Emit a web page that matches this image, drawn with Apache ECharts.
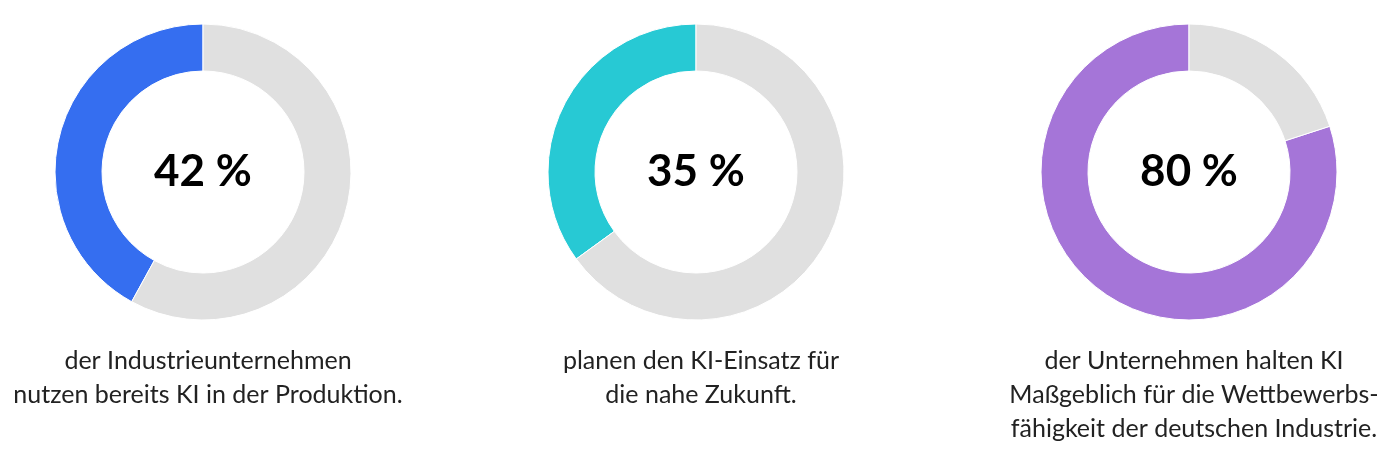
<!DOCTYPE html>
<html><head><meta charset="utf-8">
<script src="https://cdn.jsdelivr.net/npm/echarts@6/dist/echarts.min.js"></script>
<style>html,body{margin:0;padding:0;background:#fff}#c{width:1400px;height:455px}</style>
</head><body><div id="c"></div>
<script>
const values = [42, 35, 80];
const labels = ['42 %', '35 %', '80 %'];
const captions = [
  'der Industrieunternehmen\nnutzen bereits KI in der Produktion.',
  'planen den KI-Einsatz für\ndie nahe Zukunft.',
  'der Unternehmen halten KI\nMaßgeblich für die Wettbewerbs-\nfähigkeit der deutschen Industrie.'
];
const colors = ['#356EF0', '#27C9D4', '#A575D8'];
const centersX = [203, 696, 1189];

const chart = echarts.init(document.getElementById('c'));
chart.setOption({
  animation: false,
  title: values.map((v, i) => ({
    text: captions[i],
    left: centersX[i], top: 339, textAlign: 'center',
    textStyle: {fontFamily: 'Lato', fontWeight: 'normal', fontSize: 25, color: '#222', lineHeight: 34, align: 'center'}
  })),
  series: values.map((v, i) => ({
    type: 'pie', center: [centersX[i], 172], radius: [101, 148],
    startAngle: 90, clockwise: false, silent: true,
    label: {show: true, position: 'center', formatter: () => labels[i],
      fontFamily: 'Lato', fontWeight: 'bold', fontSize: 44, color: '#000'},
    labelLine: {show: false},
    itemStyle: {borderColor: '#fff', borderWidth: 1},
    data: [{value: v, itemStyle: {color: colors[i]}}, {value: 100 - v, itemStyle: {color: '#E0E0E0'}}]
  }))
});
</script></body></html>
